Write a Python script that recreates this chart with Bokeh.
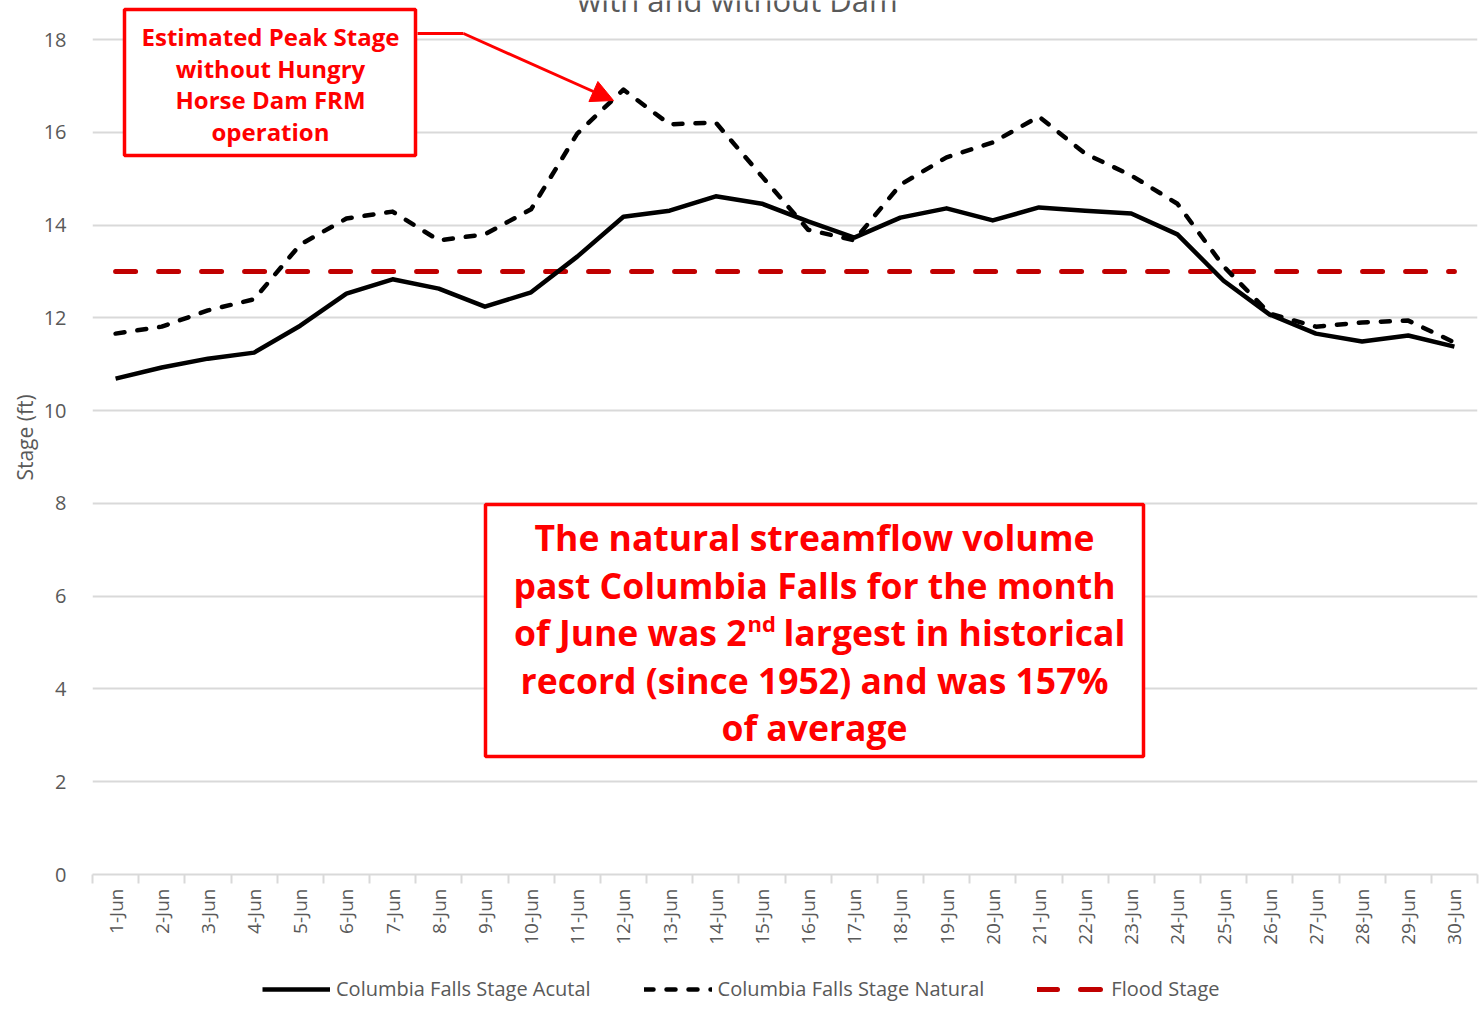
import math
from bokeh.plotting import figure
from bokeh.layouts import column
from bokeh.models import (FixedTicker, Legend, LegendItem, Label, BoxAnnotation,
                          Arrow, NormalHead, ColumnDataSource, Range1d)
from bokeh.embed import file_html
from bokeh.resources import INLINE

# ---------------- data ----------------
days = list(range(1, 31))
day_labels = [f"{d}-Jun" for d in days]
stage_actual = [10.69, 10.93, 11.12, 11.25, 11.83, 12.52, 12.83, 12.63, 12.24, 12.55,
                13.32, 14.18, 14.31, 14.62, 14.46, 14.08, 13.73, 14.16, 14.36, 14.10,
                14.38, 14.31, 14.25, 13.80, 12.80, 12.07, 11.66, 11.49, 11.62, 11.38]
stage_natural = [11.66, 11.81, 12.16, 12.40, 13.58, 14.14, 14.29, 13.67, 13.80, 14.34,
                 15.97, 16.92, 16.17, 16.21, 15.05, 13.90, 13.67, 14.87, 15.46, 15.78,
                 16.34, 15.54, 15.07, 14.46, 13.11, 12.09, 11.81, 11.90, 11.94, 11.47]
flood_stage = [13.0] * 30
y_ticks = [0, 2, 4, 6, 8, 10, 12, 14, 16, 18]
series_names = ["Columbia Falls Stage Acutal", "Columbia Falls Stage Natural", "Flood Stage"]

# ---------------- geometry (reference pixels) ----------------
W, H = 1479, 1013
H_MAIN = 955                      # main chart; legend strip below it
FL, FR, FT, FB = 92, 1477, 0, 874
PX_PER_FT = (874 - 39) / 18.0
Y_TOP = (FB - FT) / PX_PER_FT
CAT_W = (FR - FL) / 30.0


def X(px):
    """reference x pixel -> data x"""
    return 0.5 + (px - FL) / CAT_W


def Y(py):
    """reference y pixel -> data y"""
    return (FB - py) / PX_PER_FT


GRAY = "#595959"
RED = "#ff0000"
FLOOD_RED = "#c00000"
FONT = "Open Sans"

ACT_STYLE = dict(line_color="black", line_width=4.5, line_join="round")
NAT_STYLE = dict(line_color="black", line_width=4.5, line_dash="9 13", line_cap="round",
                 line_join="round")
FLOOD_STYLE = dict(line_color=FLOOD_RED, line_width=5, line_dash="20 23", line_cap="round")

src = ColumnDataSource(dict(day=days, actual=stage_actual, natural=stage_natural, flood=flood_stage))

p = figure(width=W, height=H_MAIN, output_backend="svg", toolbar_location=None,
           x_range=Range1d(0.5, 30.5), y_range=Range1d(0, Y_TOP),
           min_border_left=FL, min_border_right=W - FR, min_border_top=FT,
           min_border_bottom=H_MAIN - FB)
p.outline_line_color = None
p.background_fill_color = "white"

# y axis
p.yaxis.ticker = FixedTicker(ticks=y_ticks)
p.yaxis.axis_line_color = None
p.yaxis.major_tick_line_color = None
p.yaxis.minor_tick_line_color = None
p.yaxis.major_label_text_font = FONT
p.yaxis.major_label_text_font_size = "20px"
p.yaxis.major_label_text_color = GRAY
p.yaxis.major_label_standoff = 20
p.yaxis.axis_label = "Stage (ft)"
p.yaxis.axis_label_text_font = FONT
p.yaxis.axis_label_text_font_size = "21px"
p.yaxis.axis_label_text_font_style = "normal"
p.yaxis.axis_label_text_color = GRAY
p.yaxis.axis_label_standoff = 2

p.ygrid.ticker = FixedTicker(ticks=y_ticks)
p.ygrid.grid_line_color = "#d9d9d9"
p.ygrid.grid_line_width = 2
p.xgrid.visible = False

# x axis
p.xaxis.ticker = FixedTicker(ticks=days, minor_ticks=[d + 0.5 for d in range(0, 31)])
p.xaxis.major_label_overrides = {d: lab for d, lab in zip(days, day_labels)}
p.xaxis.major_label_orientation = math.pi / 2
p.xaxis.major_tick_line_color = None
p.xaxis.major_tick_out = 0
p.xaxis.major_tick_in = 0
p.xaxis.minor_tick_out = 9
p.xaxis.minor_tick_in = 0
p.xaxis.minor_tick_line_color = "#d9d9d9"
p.xaxis.minor_tick_line_width = 2
p.xaxis.axis_line_color = "#d9d9d9"
p.xaxis.axis_line_width = 2
p.xaxis.major_label_text_font = FONT
p.xaxis.major_label_text_font_size = "19px"
p.xaxis.major_label_text_color = GRAY
p.xaxis.major_label_standoff = 5

# series
p.line("day", "flood", source=src, **FLOOD_STYLE)
p.line("day", "natural", source=src, **NAT_STYLE)
p.line("day", "actual", source=src, **ACT_STYLE)

# title (cut off at the top like the reference)
p.add_layout(Label(x=X(737), y=Y(-1), text="with and without Dam", text_align="center",
                   text_baseline="alphabetic", text_font=FONT, text_font_size="31px",
                   text_color=GRAY))

# annotation box 1 + arrow
p.add_layout(BoxAnnotation(left=X(124), right=X(415), top=Y(9), bottom=Y(155),
                           fill_color="white", fill_alpha=1, line_color=RED, line_alpha=1,
                           line_width=3.5))
box1_lines = ["Estimated Peak Stage", "without Hungry", "Horse Dam FRM", "operation"]
for txt, yy in zip(box1_lines, [36, 68, 99, 131]):
    p.add_layout(Label(x=X(270), y=Y(yy), text=txt, text_align="center", text_baseline="middle",
                       text_font=FONT, text_font_size="24px", text_font_style="bold",
                       text_color=RED))
p.add_layout(Arrow(end=None, x_start=X(417), y_start=Y(33), x_end=X(463), y_end=Y(33),
                   line_color=RED, line_width=3))
p.add_layout(Arrow(end=NormalHead(size=22, fill_color=RED, line_color=RED),
                   x_start=X(463), y_start=Y(33), x_end=X(613), y_end=Y(100),
                   line_color=RED, line_width=3))

# annotation box 2
p.add_layout(BoxAnnotation(left=X(485), right=X(1143), top=Y(504), bottom=Y(756),
                           fill_color="white", fill_alpha=1, line_color=RED, line_alpha=1,
                           line_width=3.5))
BIG = "35.5px"
for txt, yy in [("The natural streamflow volume", 536),
                ("past Columbia Falls for the month", 584),
                ("record (since 1952) and was 157%", 679),
                ("of average", 726)]:
    p.add_layout(Label(x=X(814), y=Y(yy), text=txt, text_align="center", text_baseline="middle",
                       text_font=FONT, text_font_size=BIG, text_font_style="bold", text_color=RED))
p.add_layout(Label(x=X(746), y=Y(631), text="of June was 2", text_align="right",
                   text_baseline="middle", text_font=FONT, text_font_size=BIG,
                   text_font_style="bold", text_color=RED))
p.add_layout(Label(x=X(747), y=Y(622), text="nd", text_align="left",
                   text_baseline="middle", text_font=FONT, text_font_size="22px",
                   text_font_style="bold", text_color=RED))
p.add_layout(Label(x=X(783), y=Y(631), text="largest in historical", text_align="left",
                   text_baseline="middle", text_font=FONT, text_font_size=BIG,
                   text_font_style="bold", text_color=RED))

# ---------------- legend strip (frame is aligned with the chart frame) ----------------
H_LEG = H - H_MAIN
pl = figure(width=W, height=H_LEG, output_backend="svg", toolbar_location=None,
            x_range=Range1d(0, 1), y_range=Range1d(0, 1),
            x_axis_type=None, y_axis_type=None,
            min_border_left=FL, min_border_right=W - FR, min_border_top=0, min_border_bottom=0)
pl.outline_line_color = None
pl.xgrid.visible = False
pl.ygrid.visible = False
nan = float("nan")
k_act = pl.line(x=[nan, nan], y=[nan, nan], **ACT_STYLE)
k_nat = pl.line(x=[nan, nan], y=[nan, nan], **NAT_STYLE)
k_flood = pl.line(x=[nan, nan], y=[nan, nan], **FLOOD_STYLE)
LEG_H = 22
legend = Legend(items=[LegendItem(label=series_names[0], renderers=[k_act]),
                       LegendItem(label=series_names[1], renderers=[k_nat]),
                       LegendItem(label=series_names[2], renderers=[k_flood])],
                orientation="horizontal",
                location=(262 - FL, H_LEG - (991 - H_MAIN) - LEG_H // 2),
                glyph_width=68, glyph_height=LEG_H, label_standoff=6, spacing=53,
                padding=0, margin=0, label_height=LEG_H,
                label_text_font=FONT, label_text_font_size="20px", label_text_color=GRAY,
                border_line_color=None, background_fill_alpha=0)
pl.add_layout(legend, "center")

layout = column(p, pl, spacing=0)
open("out.html", "w").write(file_html(layout, INLINE))
